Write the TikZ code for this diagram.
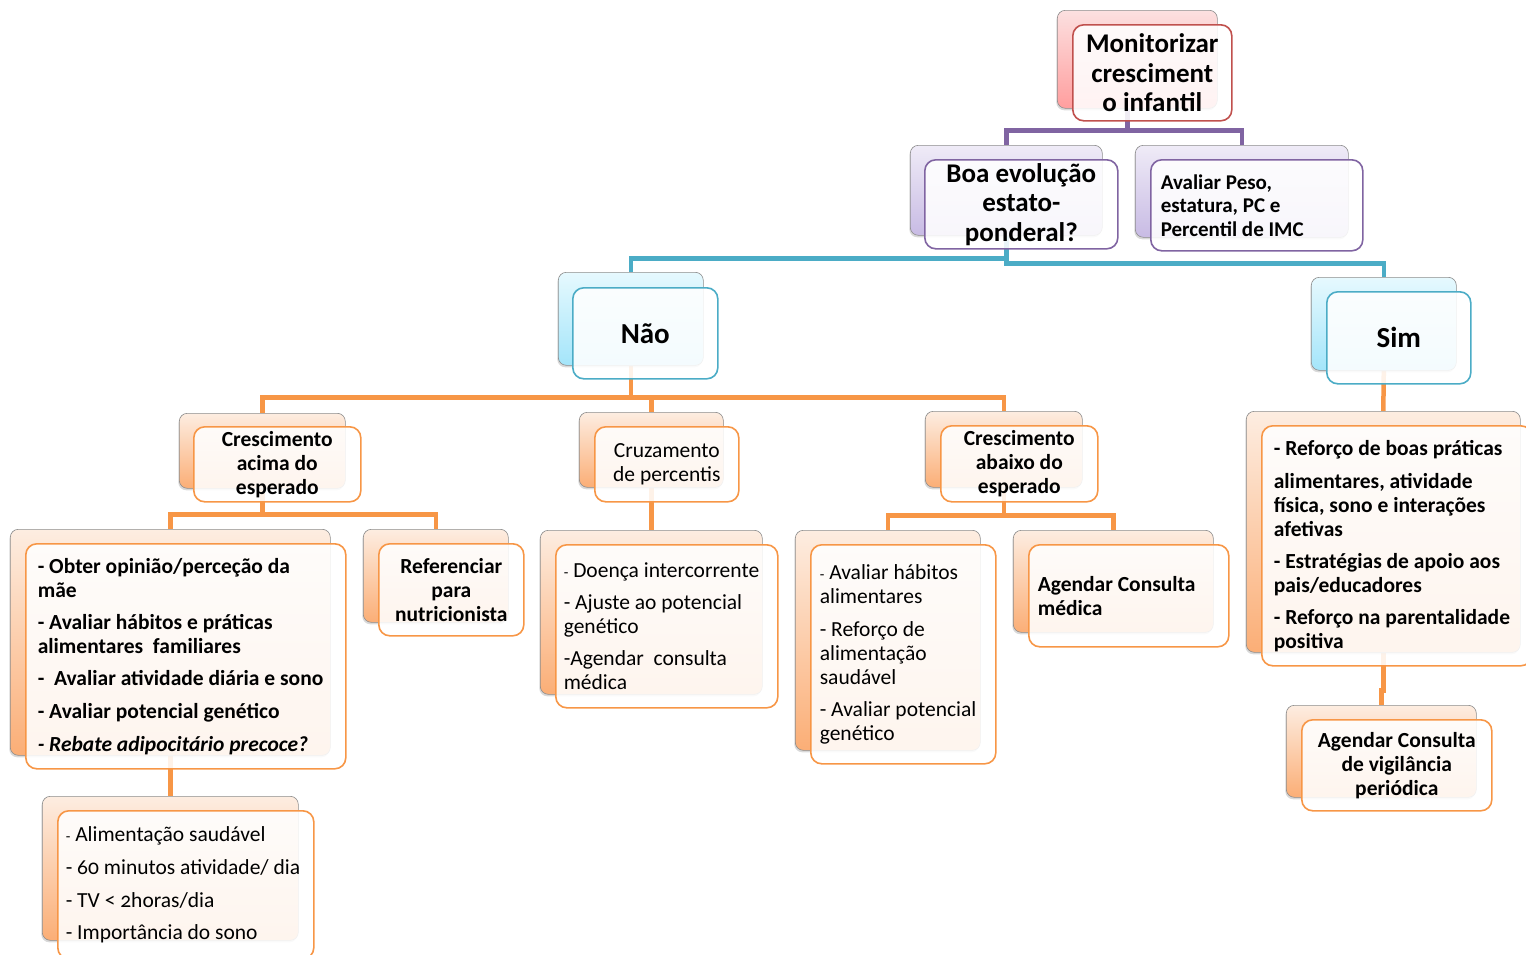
\documentclass[tikz,border=0pt]{standalone}
\usepackage{fontspec}
\setmainfont{Carlito}[Numbers=OldStyle]
\usetikzlibrary{shadows,backgrounds}

\definecolor{accRed}{HTML}{C0504D}
\definecolor{accPurple}{HTML}{8064A2}
\definecolor{accBlue}{HTML}{4BACC6}
\definecolor{accOrange}{HTML}{F79646}
\definecolor{redTop}{HTML}{FCE0E0}
\definecolor{redBot}{HTML}{FF9E9E}
\definecolor{purTop}{HTML}{EFEBF7}
\definecolor{purBot}{HTML}{C8BBE4}
\definecolor{bluTop}{HTML}{E6F9FE}
\definecolor{bluBot}{HTML}{A4E5FA}
\definecolor{orgTop}{HTML}{FDEDE1}
\definecolor{orgBot}{HTML}{FBAE76}

\newcommand{\smdash}{{\fontsize{15}{15}\selectfont -}}

\tikzset{
  cardback/.style={rounded corners=8pt, draw=black!45, line width=0.6pt,
    anchor=north west, inner sep=0pt,
    drop shadow={shadow xshift=-1pt, shadow yshift=-2pt, opacity=0.3}},
  redback/.style={cardback, top color=redTop, bottom color=redBot},
  purback/.style={cardback, top color=purTop, bottom color=purBot},
  bluback/.style={cardback, top color=bluTop, bottom color=bluBot},
  orgback/.style={cardback, top color=orgTop, bottom color=orgBot},
  cardfront/.style={rounded corners=11pt, draw=#1, line width=1.6pt,
    fill=white, fill opacity=0.88, text opacity=1, text=black,
    anchor=north west, inner xsep=10pt, inner ysep=0pt, align=center},
  listcard/.style={align=flush left},
  headtxt/.style={font=\bfseries\fontsize{27}{29.5}\selectfont},
  answtxt/.style={font=\bfseries\fontsize{29}{30}\selectfont},
  boldtxt/.style={font=\bfseries\fontsize{21.5}{24}\selectfont},
  plaintxt/.style={font=\fontsize{21.5}{24}\selectfont},
  link/.style={line width=4.5pt, draw=#1},
}

\begin{document}
\begin{tikzpicture}[x=1pt, y=-1pt]
  \useasboundingbox (0,0) rectangle (1526,954);

  % back cards
  \node[redback, minimum width=160, minimum height=98] (topB) at (1057,10) {};
  \node[purback, minimum width=192, minimum height=90] (boaB) at (910,145) {};
  \node[purback, minimum width=213, minimum height=92] (pesoB) at (1135,145) {};
  \node[bluback, minimum width=145, minimum height=93] (naoB) at (558,272) {};
  \node[bluback, minimum width=145, minimum height=93] (simB) at (1311,277) {};
  \node[orgback, minimum width=166, minimum height=75] (acimaB) at (179,413) {};
  \node[orgback, minimum width=144, minimum height=75] (cruzB) at (579,412) {};
  \node[orgback, minimum width=157, minimum height=76] (abaixoB) at (925,411) {};
  \node[orgback, minimum width=320, minimum height=226] (maeB) at (10,529) {};
  \node[orgback, minimum width=145, minimum height=93] (nutriB) at (363,529) {};
  \node[orgback, minimum width=256, minimum height=144] (saudeB) at (42,796) {};
  \node[orgback, minimum width=222, minimum height=164] (doencaB) at (540,530) {};
  \node[orgback, minimum width=185, minimum height=220] (habB) at (795,530) {};
  \node[orgback, minimum width=200, minimum height=102] (medB) at (1013,530) {};
  \node[orgback, minimum width=274, minimum height=241] (reforcoB) at (1246,411) {};
  \node[orgback, minimum width=190, minimum height=92] (vigB) at (1286,705) {};

  % front cards
  \node[cardfront=accRed, headtxt, minimum width=159, minimum height=96] (top) at (1072,24)
    {Monitorizar\\cresciment\\o infantil};
  \node[cardfront=accPurple, headtxt, minimum width=193, minimum height=89] (boa) at (924,159)
    {Boa evolução\\estato-\\ponderal?};
  \node[cardfront=accPurple, listcard, font=\bfseries\fontsize{21}{23.5}\selectfont,
    minimum width=212, minimum height=91, text width=192] (peso) at (1150,159)
    {Avaliar Peso,\\estatura, PC e\\Percentil de IMC};
  \node[cardfront=accBlue, answtxt, minimum width=145, minimum height=91] (nao) at (572,287) {Não};
  \node[cardfront=accBlue, answtxt, minimum width=144, minimum height=92] (sim) at (1326,291) {Sim};
  \node[cardfront=accOrange, boldtxt, minimum width=167, minimum height=75] (acima) at (193,426)
    {Crescimento\\acima do\\esperado};
  \node[cardfront=accOrange, plaintxt, minimum width=144, minimum height=75] (cruz) at (594,426)
    {Cruzamento\\de percentis};
  \node[cardfront=accOrange, boldtxt, minimum width=157, minimum height=76] (abaixo) at (940,425)
    {Crescimento\\abaixo do\\esperado};
  \node[cardfront=accOrange, listcard, boldtxt, minimum width=320, minimum height=225,
    inner xsep=12pt, text width=296] (mae) at (25,543)
    {- Obter opinião/perceção da\\mãe\\[8pt]
     - Avaliar hábitos e práticas\\alimentares~ familiares\\[8pt]
     -~ Avaliar atividade diária e sono\\[9pt]
     - Avaliar potencial genético\\[9pt]
     \textit{- Rebate adipocitário precoce?}};
  \node[cardfront=accOrange, boldtxt, minimum width=145, minimum height=92] (nutri) at (378,543)
    {Referenciar\\para\\nutricionista};
  \node[cardfront=accOrange, listcard, plaintxt, minimum width=256, minimum height=148,
    inner xsep=8pt, text width=240] (saude) at (57,810)
    {\smdash{} Alimentação saudável\\[9pt]
     - 60 minutos atividade/ dia\\[9pt]
     - TV < 2horas/dia\\[8pt]
     - Importância do sono};
  \node[cardfront=accOrange, listcard, plaintxt, minimum width=222, minimum height=163,
    inner xsep=8pt, text width=206] (doenca) at (555,544)
    {\smdash{} Doença intercorrente\\[8pt]
     - Ajuste ao potencial\\genético\\[8pt]
     -Agendar~ consulta\\médica};
  \node[cardfront=accOrange, listcard, plaintxt, minimum width=185, minimum height=219,
    inner xsep=9pt, text width=167] (hab) at (810,544)
    {\smdash{} Avaliar hábitos\\alimentares\\[9pt]
     - Reforço de\\alimentação\\saudável\\[8pt]
     - Avaliar potencial\\genético};
  \node[cardfront=accOrange, listcard, boldtxt, minimum width=200, minimum height=102,
    inner xsep=9pt, text width=182] (med) at (1028,544)
    {Agendar Consulta\\médica};
  \node[cardfront=accOrange, listcard, boldtxt, minimum width=270, minimum height=240,
    inner xsep=12pt, text width=246] (reforco) at (1261,425)
    {- Reforço de boas práticas\\[9pt]
     alimentares, atividade\\física, sono e interações\\afetivas\\[8pt]
     - Estratégias de apoio aos\\pais/educadores\\[8pt]
     - Reforço na parentalidade\\positiva};
  \node[cardfront=accOrange, boldtxt, minimum width=190, minimum height=91] (vig) at (1301,719)
    {Agendar Consulta\\de vigilância\\periódica};

  % connectors
  \begin{pgfonlayer}{background}
    \draw[link=accPurple] ([xshift=-10pt]topB.south) -- ++(0,22) coordinate (topJ)
      -| (boaB.north) (topJ) -| (pesoB.north);
    \draw[link=accBlue] (boaB.south) -- ++(0,23) -| (naoB.north);
    \draw[link=accBlue] (boaB.south) -- ++(0,28) -| (simB.north);
    \draw[link=accOrange] (naoB.south) -- ++(0,32) coordinate (naoJ)
      -| (acimaB.north) (naoJ) -| (abaixoB.north) (naoJ) -| (cruzB.north);
    \draw[link=accOrange] (acimaB.south) -- ++(0,26) coordinate (acimaJ)
      -| (maeB.north) (acimaJ) -| (nutriB.north);
    \draw[link=accOrange] (maeB.south) -- (saudeB.north);
    \draw[link=accOrange] (cruzB.south) -- (doencaB.north);
    \draw[link=accOrange] (abaixoB.south) -- ++(0,28) coordinate (abaixoJ)
      -| (habB.north) (abaixoJ) -| (medB.north);
    \draw[link=accOrange] (simB.south) -- (reforcoB.north);
    \draw[link=accOrange] (reforcoB.south) -- ++(0,38) -| (vigB.north);
  \end{pgfonlayer}
\end{tikzpicture}
\end{document}
